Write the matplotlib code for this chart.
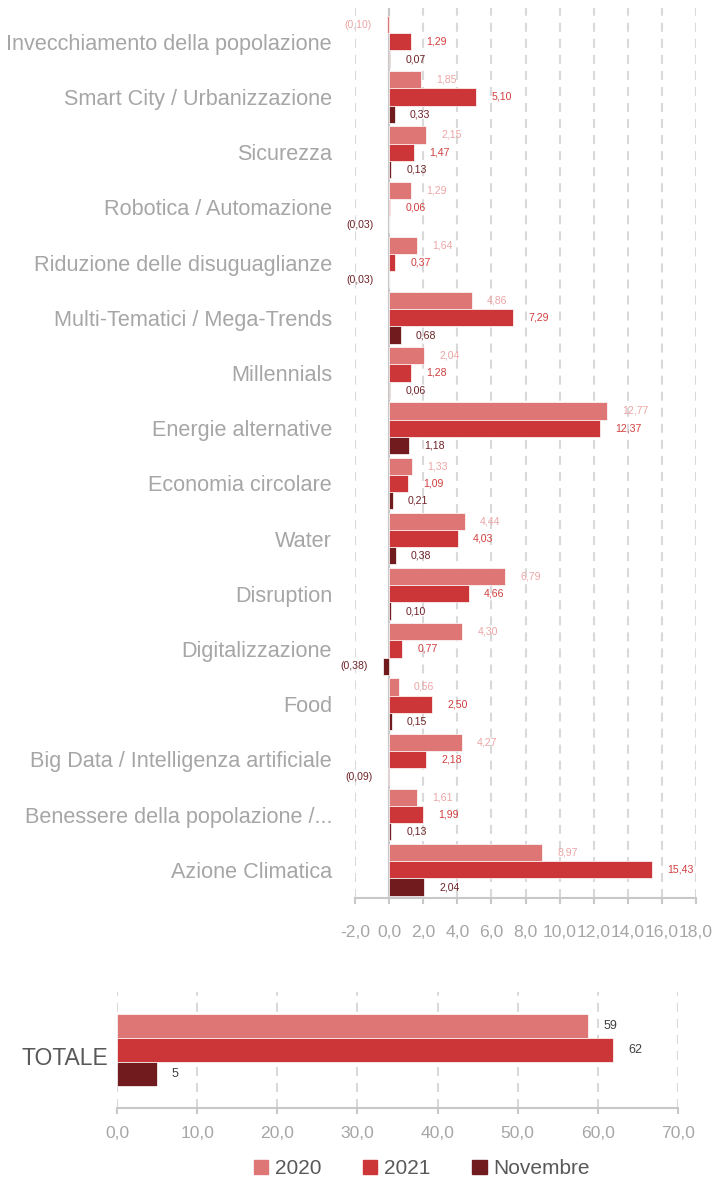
import numpy as np
import matplotlib
matplotlib.use("Agg")
import matplotlib.pyplot as plt
from matplotlib import font_manager
from matplotlib.patches import Patch

# thematic categories, top to bottom
categories = [
    "Invecchiamento della popolazione",
    "Smart City / Urbanizzazione",
    "Sicurezza",
    "Robotica / Automazione",
    "Riduzione delle disuguaglianze",
    "Multi-Tematici / Mega-Trends",
    "Millennials",
    "Energie alternative",
    "Economia circolare",
    "Water",
    "Disruption",
    "Digitalizzazione",
    "Food",
    "Big Data / Intelligenza artificiale",
    "Benessere della popolazione /...",
    "Azione Climatica",
]
v2020 = [-0.10, 1.85, 2.15, 1.29, 1.64, 4.86, 2.04, 12.77, 1.33, 4.44,
         6.79, 4.30, 0.56, 4.27, 1.61, 8.97]
v2021 = [1.29, 5.10, 1.47, 0.06, 0.37, 7.29, 1.28, 12.37, 1.09, 4.03,
         4.66, 0.77, 2.50, 2.18, 1.99, 15.43]
vnov = [0.07, 0.33, 0.13, -0.03, -0.03, 0.68, 0.06, 1.18, 0.21, 0.38,
        0.10, -0.38, 0.15, -0.09, 0.13, 2.04]
series_names = ["2020", "2021", "Novembre"]
top_ticks = np.arange(-2, 19, 2)
bottom_ticks = np.arange(0, 71, 10)

series = [v2020, v2021, vnov]
totals = [sum(v) for v in series]

bar_colors = ["#de7676", "#cc3638", "#721b1f"]
label_colors = ["#eca5a5", "#d33e3e", "#6e2227"]
grey_txt = "#a6a6a6"
dark_txt = "#595959"
axis_col = "#c8c8c8"
grid_col = "#d9d9d9"


def has_font(name):
    try:
        font_manager.findfont(font_manager.FontProperties(family=name),
                              fallback_to_default=False)
        return True
    except ValueError:
        return False


NARROW = "Liberation Sans Narrow" if has_font("Liberation Sans Narrow") else "Liberation Sans"
REG = "Liberation Sans"
narrow_scale = 1.0 if NARROW == "Liberation Sans Narrow" else 0.82


def it_num(v, nd=2):
    # Italian decimal comma, negatives in parentheses
    s = f"{abs(v):.{nd}f}".replace(".", ",")
    return f"({s})" if v < 0 else s


def tick_num(v):
    return f"{v:.1f}".replace(".", ",")


W, H = 717, 1178
fig = plt.figure(figsize=(W / 100, H / 100), dpi=100)

# ---- per-theme chart
ax = fig.add_axes([355 / W, (H - 898) / H, 341 / W, 890 / H])
h = 0.312
y = np.arange(len(categories))
for k, vals in enumerate(series):
    pos = y + (k - 1) * h
    ax.barh(pos, vals, height=h, color=bar_colors[k], edgecolor="white",
            linewidth=0.5, zorder=3)
    for yy, v in zip(pos, vals):
        ax.annotate(it_num(v), (v, yy), xytext=(11 if v >= 0 else -11, 0),
                    textcoords="offset points", ha="left" if v >= 0 else "right",
                    va="center", fontsize=9.2 * narrow_scale, family=NARROW,
                    color=label_colors[k], zorder=4)

ax.set_xlim(-2, 18)
ax.set_ylim(15.511, -0.612)
ax.set_xticks(top_ticks)
ax.set_xticklabels([tick_num(t) for t in top_ticks], family=REG)
ax.xaxis.grid(True, color=grid_col, lw=1.5, linestyle=(0, (4.3, 3.4)))
ax.set_axisbelow(True)
ax.axvline(0, color=axis_col, lw=1.5, zorder=2)
ax.set_yticks(y)
ax.set_yticklabels(categories, family=NARROW, fontsize=19 * narrow_scale,
                   color=grey_txt)
for side in ("top", "right", "left"):
    ax.spines[side].set_visible(False)
ax.spines["bottom"].set_color(axis_col)
ax.spines["bottom"].set_linewidth(1.5)
ax.tick_params(axis="x", length=4.3, width=1.5, color=axis_col,
               labelcolor=grey_txt, labelsize=12.6, pad=15)
ax.tick_params(axis="y", length=0, pad=16.5)

# ---- total chart
ax2 = fig.add_axes([117 / W, (H - 1108) / H, 561 / W, 116 / H])
for k, tot in enumerate(totals):
    yy = (k - 1) / 3
    ax2.barh(yy, tot, height=1 / 3, color=bar_colors[k], edgecolor="white",
             linewidth=0.5, zorder=3)
    ax2.annotate(f"{tot:.0f}", (tot, yy), xytext=(11, 0),
                 textcoords="offset points", ha="left", va="center",
                 fontsize=9, family=REG, color="#404040", zorder=4)
ax2.set_xlim(0, 70)
ax2.set_ylim(0.806, -0.806)
ax2.set_xticks(bottom_ticks)
ax2.set_xticklabels([tick_num(t) for t in bottom_ticks], family=REG)
ax2.xaxis.grid(True, color=grid_col, lw=1.5, linestyle=(0, (4.3, 3.4)))
ax2.set_axisbelow(True)
ax2.set_yticks([])
ax2.annotate("TOTALE", (0, 0.083), xycoords=("axes fraction", "data"),
             xytext=(-6.5, 0), textcoords="offset points", ha="right",
             va="center_baseline", fontsize=16.5, family=REG, color=dark_txt)
for side in ("top", "right", "left"):
    ax2.spines[side].set_visible(False)
ax2.spines["bottom"].set_color(axis_col)
ax2.spines["bottom"].set_linewidth(1.5)
ax2.tick_params(axis="x", length=4.3, width=1.5, color=axis_col,
                labelcolor=grey_txt, labelsize=12.6, pad=9)

# ---- legend
handles = [Patch(color=c) for c in bar_colors]
fig.legend(handles, series_names, loc="center", bbox_to_anchor=(422 / W, 1 - 1169 / H),
           ncol=3, frameon=False, prop={"family": REG, "size": 15},
           labelcolor=dark_txt, handlelength=0.68, handleheight=0.68,
           handletextpad=0.34, columnspacing=2.0, borderpad=0, borderaxespad=0)

fig.savefig("out.png", dpi=100)
